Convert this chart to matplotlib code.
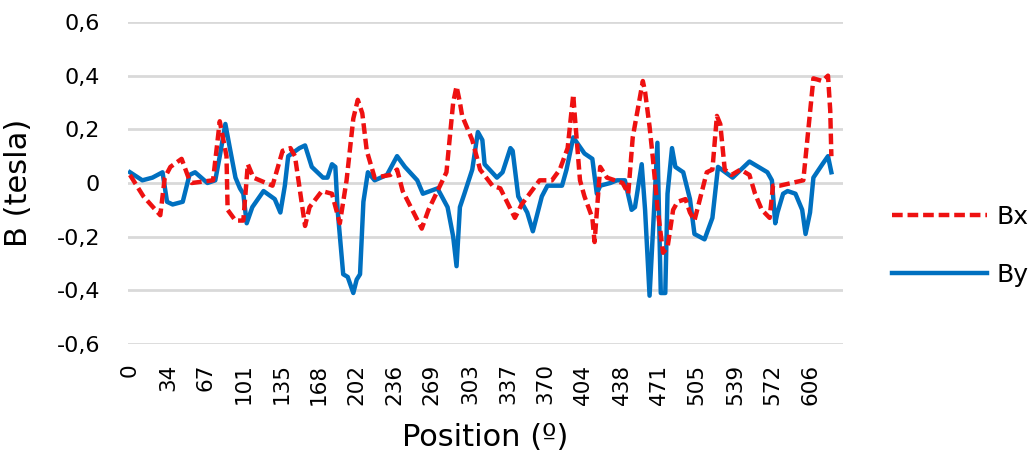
import matplotlib
matplotlib.use("Agg")
import matplotlib.pyplot as plt

# Bx (red dashed)
bx_pos = [0, 12, 27, 31, 36, 46, 53, 55, 74, 80, 86, 87, 94, 101, 105, 110, 127,
          136, 143, 147, 156, 160, 171, 180, 187, 193, 199, 203, 207, 211, 218,
          232, 238, 243, 260, 266, 274, 282, 288, 291, 294, 296, 305, 312, 323,
          330, 343, 349, 365, 376, 383, 390, 395, 396, 401, 405, 412, 414, 419,
          425, 439, 444, 448, 454, 457, 459, 463, 466, 470, 475, 479, 484, 488,
          495, 499, 503, 514, 519, 523, 526, 530, 536, 544, 552, 557, 563, 570,
          573, 579, 600, 609, 617, 622, 624, 625]
bx_val = [0.03, -0.05, -0.12, 0.02, 0.06, 0.09, 0.01, 0.0, 0.01, 0.23, 0.10,
          -0.10, -0.14, -0.14, 0.07, 0.02, -0.01, 0.12, 0.13, 0.10, -0.16, -0.09,
          -0.03, -0.04, -0.15, 0.01, 0.24, 0.31, 0.26, 0.12, 0.02, 0.03, 0.05,
          -0.03, -0.17, -0.10, -0.03, 0.04, 0.30, 0.36, 0.30, 0.25, 0.16, 0.05,
          -0.01, -0.02, -0.13, -0.08, 0.01, 0.01, 0.05, 0.13, 0.33, 0.27, 0.01,
          -0.05, -0.13, -0.22, 0.06, 0.02, 0.0, -0.04, 0.17, 0.31, 0.38, 0.34,
          0.21, 0.09, -0.09, -0.26, -0.24, -0.10, -0.07, -0.06, -0.11, -0.14,
          0.04, 0.05, 0.25, 0.22, 0.05, 0.03, 0.05, 0.03, -0.04, -0.10, -0.13,
          -0.01, -0.01, 0.01, 0.39, 0.38, 0.40, 0.27, 0.10]

# By (blue solid)
by_pos = [0, 11, 20, 29, 33, 38, 47, 53, 58, 69, 76, 80, 85, 89, 94, 98, 101,
          104, 109, 119, 129, 134, 138, 141, 151, 156, 162, 172, 176, 180, 183,
          185, 190, 194, 199, 202, 205, 208, 212, 218, 229, 238, 245, 256, 261,
          274, 283, 288, 291, 294, 298, 305, 310, 314, 316, 327, 332, 339, 341,
          346, 354, 359, 367, 372, 385, 389, 395, 405, 412, 416, 419, 428, 434,
          441, 447, 450, 456, 459, 463, 467, 470, 473, 477, 479, 483, 486, 493,
          499, 503, 512, 519, 524, 537, 552, 568, 572, 575, 577, 582, 586, 593,
          599, 602, 606, 609, 617, 622, 625]
by_val = [0.04, 0.01, 0.02, 0.04, -0.07, -0.08, -0.07, 0.03, 0.04, 0.0, 0.01,
          0.10, 0.22, 0.13, 0.02, -0.02, -0.04, -0.15, -0.09, -0.03, -0.06,
          -0.11, -0.01, 0.10, 0.13, 0.14, 0.06, 0.02, 0.02, 0.07, 0.06, -0.10,
          -0.34, -0.35, -0.41, -0.36, -0.34, -0.07, 0.04, 0.01, 0.03, 0.10, 0.06,
          0.01, -0.04, -0.02, -0.09, -0.20, -0.31, -0.09, -0.04, 0.05, 0.19,
          0.16, 0.07, 0.02, 0.04, 0.13, 0.12, -0.05, -0.11, -0.18, -0.05, -0.01,
          -0.01, 0.05, 0.17, 0.11, 0.09, -0.04, -0.01, 0.0, 0.01, 0.01, -0.10,
          -0.09, 0.07, -0.10, -0.42, -0.10, 0.15, -0.41, -0.41, -0.04, 0.13,
          0.06, 0.04, -0.06, -0.19, -0.21, -0.13, 0.06, 0.02, 0.08, 0.04, 0.01,
          -0.15, -0.11, -0.04, -0.03, -0.04, -0.10, -0.19, -0.11, 0.02, 0.07,
          0.10, 0.04]

xtick_labels = [0, 34, 67, 101, 135, 168, 202, 236, 269, 303, 337, 370, 404,
                438, 471, 505, 539, 572, 606]
yticks = [-0.6, -0.4, -0.2, 0, 0.2, 0.4, 0.6]

fig = plt.figure(figsize=(10.32, 4.62), dpi=100)
ax = fig.add_axes([0.124, 0.2554, 0.693, 0.697])

ax.plot(bx_pos, bx_val, color="#EE1111", lw=3.2, ls=(0, (2.4, 1.1)),
        dash_capstyle="butt", label="Bx", zorder=3)
ax.plot(by_pos, by_val, color="#0070C0", lw=3.2, label="By", zorder=2,
        solid_joinstyle="round")

ax.set_xlim(-1.8, 635.5)
ax.set_ylim(-0.6, 0.6)
ax.set_yticks(yticks)
ax.set_yticklabels(["0" if v == 0 else f"{v:.1f}".replace(".", ",") for v in yticks])
ax.set_xticks(xtick_labels)
ax.set_xticklabels([str(v) for v in xtick_labels], rotation=90)

ax.grid(axis="y", color="#D9D9D9", lw=2)
ax.set_axisbelow(True)
for s in ax.spines.values():
    s.set_visible(False)
ax.tick_params(axis="both", length=0)
ax.tick_params(axis="y", labelsize=16, pad=20)
ax.tick_params(axis="x", labelsize=15.5, pad=14)

ax.set_ylabel("B (tesla)", fontsize=22)
ax.yaxis.set_label_coords(-0.133, 0.5)
ax.set_xlabel("Position (º)", fontsize=22)
ax.xaxis.set_label_coords(0.5, -0.245)

fig.legend(loc="center left", bbox_to_anchor=(0.864, 0.4675), frameon=False,
           fontsize=18, handlelength=3.8, handletextpad=0.4, labelspacing=1.35,
           borderpad=0, borderaxespad=0)

fig.savefig("out.png", dpi=100)
